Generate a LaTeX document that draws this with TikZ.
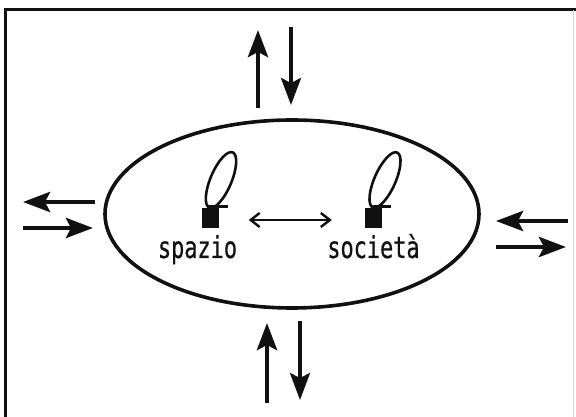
\documentclass[tikz,border=0pt]{standalone}
\usepackage{fontspec}
\usepackage{tikz}
\usetikzlibrary{positioning,arrows.meta,calc,shapes.geometric}
\newfontfamily\labelfont[FakeStretch=0.73, FakeBold=0.6]{DejaVu Sans Mono}
\definecolor{ink}{HTML}{111111}
\definecolor{faint}{HTML}{D8D8D8}
\tikzset{
  frameline/.style = {draw=ink, line width=3pt},
  world/.style     = {ellipse, draw=ink, line width=3.6pt, minimum width=374pt, minimum height=188pt,
                      inner sep=0pt},
  flux/.style      = {-{Stealth[length=27pt, width=20pt, inset=5pt]}, draw=ink, line width=4.4pt},
  agent/.style     = {rectangle, fill=ink, minimum width=17pt, minimum height=20pt, inner sep=0pt},
  selfloop/.style  = {draw=ink, line width=2.6pt},
  link/.style      = {{Straight Barb[length=9pt, width=14pt, sep=4pt]}-{Straight Barb[length=9pt, width=14pt, sep=4pt]},
                      draw=ink, line width=2.4pt},
  tag/.style       = {font=\labelfont\fontsize{30}{33}\selectfont, text=ink, inner sep=0pt, anchor=base},
}

\begin{document}
\begin{tikzpicture}[x=1pt, y=1pt]
  \useasboundingbox (0,0) rectangle (576,417);

  %% ---------------- frame (cut at the bottom) -----------------------------------------------
  \draw[frameline] (5,-3) -- (5,407) -- (577,407);
  \draw[draw=faint, line width=1pt] (573,407) -- (573,-3);

  %% ---------------- the system --------------------------------------------------------------
  \node[world] (sys) at (292,203) {};

  \node[agent] (spc) at (210,199) {};
  \node[agent] (soc) at (373.5,199) {};
  \draw[selfloop, rotate around={67:(221,237)}] (221,237) ellipse [x radius=30, y radius=10.5];
  \draw[selfloop, rotate around={66:(385,237)}] (385,237) ellipse [x radius=30, y radius=10.5];
  \draw[selfloop] ($(spc.north)+(-3,1)$) -- ++(21,0);
  \draw[selfloop] ($(soc.north)+(-1,1)$) -- ++(18,0);

  \node[tag] (spclbl) at (197.5,159) {spazio};
  \node[tag] (soclbl) at (373.5,159) {società};

  \draw[link, shorten <=26pt, shorten >=29pt] (spc.east |- 0,197) -- (soc.west |- 0,197);

  %% ---------------- exchanges with the outside ---------------------------------------------
  % top
  \coordinate (t1a) at (258,309); \coordinate (t1b) at (258,387);
  \coordinate (t2a) at (291,390); \coordinate (t2b) at (291,312);
  \draw[flux] (t1a) -- (t1b);
  \draw[flux, line width=3.4pt] (t2a) -- (t2b);
  % bottom
  \coordinate (b1a) at (267,14);  \coordinate (b1b) at (267,94);
  \coordinate (b2a) at (300,96);  \coordinate (b2b) at (300,17);
  \draw[flux] (b1a) -- (b1b);
  \draw[flux, line width=3.4pt] (b2a) -- (b2b);
  % left
  \coordinate (l1a) at (95,215);  \coordinate (l1b) at (23,215);
  \coordinate (l2a) at (23,189);  \coordinate (l2b) at (93,189);
  \draw[flux] (l1a) -- (l1b);
  \draw[flux] (l2a) -- (l2b);
  % right
  \coordinate (r1a) at (568,196); \coordinate (r1b) at (496,196);
  \coordinate (r2a) at (496,170); \coordinate (r2b) at (566,170);
  \draw[flux] (r1a) -- (r1b);
  \draw[flux] (r2a) -- (r2b);
\end{tikzpicture}
\end{document}
